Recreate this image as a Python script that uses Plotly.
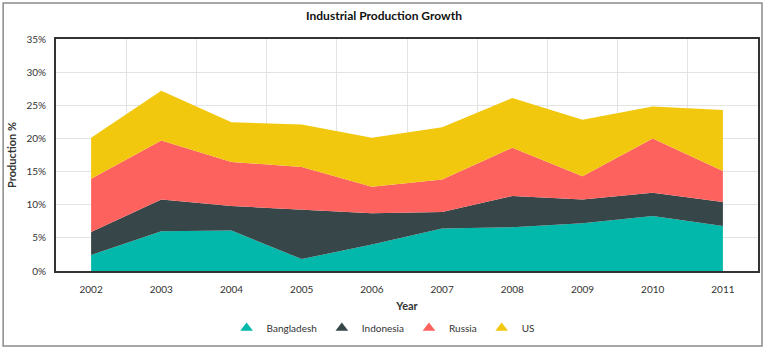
import plotly.graph_objects as go

years = [2002, 2003, 2004, 2005, 2006, 2007, 2008, 2009, 2010, 2011]
bangladesh = [2.4, 6.0, 6.1, 1.8, 4.0, 6.4, 6.6, 7.2, 8.3, 6.8]
indonesia = [3.5, 4.8, 3.7, 7.4, 4.7, 2.5, 4.7, 3.6, 3.5, 3.6]
russia = [8.0, 8.9, 6.65, 6.5, 4.0, 4.9, 7.3, 3.5, 8.2, 4.7]
us = [6.2, 7.5, 6.0, 6.4, 7.4, 7.9, 7.5, 8.5, 4.8, 9.2]

series = [
    ("Bangladesh", bangladesh, "#01B8AA"),
    ("Indonesia", indonesia, "#374649"),
    ("Russia", russia, "#FD625E"),
    ("US", us, "#F2C80F"),
]

FONT = "Segoe UI, Lato, Open Sans, sans-serif"

fig = go.Figure()
for name, vals, col in series:
    fig.add_trace(go.Scatter(
        x=years, y=vals, name=name, mode="lines",
        stackgroup="one", line=dict(width=0, color=col),
        fillcolor=col, showlegend=False, legendgroup=name,
    ))
# legend entries with mountain-like icon
for name, vals, col in series:
    fig.add_trace(go.Scatter(
        x=[None], y=[None], name=name, mode="markers", legendgroup=name,
        marker=dict(symbol="triangle-up", size=11, color=col, line=dict(width=0)),
        showlegend=True,
    ))

W, H = 768, 352
L, R, T, B = 56, 8, 39, 81
pw, ph = W - L - R, H - T - B

fig.update_layout(
    width=W, height=H,
    margin=dict(l=L, r=R, t=T, b=B),
    paper_bgcolor="white", plot_bgcolor="white",
    font=dict(family=FONT, size=10, color="#333"),
    title=dict(text="<b>Industrial Production Growth</b>", x=0.5, xanchor="center",
               y=1 - 16 / H, yanchor="middle", font=dict(size=12, color="#111", family=FONT)),
    showlegend=True,
    legend=dict(orientation="h", x=(384 - L) / pw, xanchor="center",
                y=-(328 - (T + ph)) / ph, yanchor="middle",
                font=dict(size=10, color="#333"), itemwidth=30, traceorder="normal"),
    xaxis=dict(
        range=[2001.5, 2011.5], tickmode="array", tickvals=years,
        ticktext=[str(y) for y in years], showgrid=False, ticks="",
        ticklabelstandoff=8,
        minor=dict(tick0=2001.5, dtick=1, showgrid=True, gridcolor="#e3e3e3", gridwidth=1),
        showline=True, mirror=True, linecolor="#333", linewidth=2,
        title=dict(text="<b>Year</b>", font=dict(size=11, color="#333"), standoff=8),
        zeroline=False,
    ),
    yaxis=dict(
        range=[0, 35], dtick=5, ticksuffix="%", showgrid=True, gridcolor="#e3e3e3",
        gridwidth=1, ticks="", showline=True, mirror=True, linecolor="#333", linewidth=2,
        title=dict(text="<b>Production %</b>", font=dict(size=11, color="#333"), standoff=8),
        zeroline=False, ticklabelstandoff=6,
    ),
)

# outer border
fig.add_shape(type="rect", xref="paper", yref="paper",
              x0=(3 - L) / pw, x1=(764 - L) / pw,
              y0=-(346 - (T + ph)) / ph, y1=(T + ph - 3) / ph,
              line=dict(color="#8a8a8a", width=1.5), layer="below")

fig.write_html("out.html")
